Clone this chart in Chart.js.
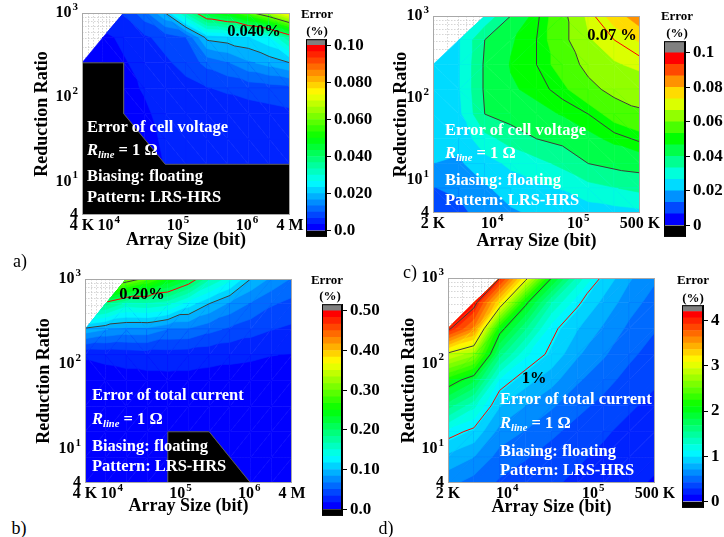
<!DOCTYPE html>
<html lang="en">
<head>
<meta charset="UTF-8">
<title>Error maps vs array size and reduction ratio</title>
<script src="https://cdn.jsdelivr.net/npm/chart.js"></script>
<style>
  html, body { margin: 0; padding: 0; background: #fff; }
  #fig { position: relative; width: 724px; height: 537px; overflow: hidden; }
  #fig canvas { position: absolute; }
  .t { position: absolute; font-family: 'Liberation Serif', 'Times New Roman', serif; white-space: nowrap; line-height: 1; z-index: 5; }
  .ann { color: #fff; font-weight: bold; font-size: 16.5px; transform: translateY(-50%); }
  .ann sub { font-size: 10.5px; vertical-align: -3px; line-height: 0; }
  .cl { color: #000; font-weight: bold; font-size: 16.5px; transform: translate(-50%, -50%); }
  .cb { color: #000; font-weight: bold; font-size: 13px; transform: translate(-50%, -50%); }
  .pl { color: #000; font-size: 18px; transform: translate(-50%, -50%); }
</style>
</head>
<body>
<div id="fig">
  <!-- panel a -->
  <div class="t ann" style="left:87px;top:127px">Error of cell voltage</div>
  <div class="t ann" style="left:87px;top:150px"><i>R</i><sub><i>line</i></sub> = 1 Ω</div>
  <div class="t ann" style="left:87px;top:176px">Biasing: floating</div>
  <div class="t ann" style="left:87px;top:197px">Pattern: LRS-HRS</div>
  <div class="t cl" style="left:254px;top:31px">0.040%</div>
  <div class="t cb" style="left:317px;top:13px">Error</div>
  <div class="t cb" style="left:317px;top:30px">(%)</div>
  <div class="t pl" style="left:20px;top:261px">a)</div>
  <!-- panel c -->
  <div class="t ann" style="left:445px;top:130px">Error of cell voltage</div>
  <div class="t ann" style="left:445px;top:153px"><i>R</i><sub><i>line</i></sub> = 1 Ω</div>
  <div class="t ann" style="left:445px;top:180px">Biasing: floating</div>
  <div class="t ann" style="left:445px;top:200px">Pattern: LRS-HRS</div>
  <div class="t cl" style="left:612px;top:35px">0.07 %</div>
  <div class="t cb" style="left:677px;top:15px">Error</div>
  <div class="t cb" style="left:677px;top:32px">(%)</div>
  <div class="t pl" style="left:410px;top:272px">c)</div>
  <!-- panel b -->
  <div class="t ann" style="left:92px;top:395px">Error of total current</div>
  <div class="t ann" style="left:92px;top:419px"><i>R</i><sub><i>line</i></sub> = 1 Ω</div>
  <div class="t ann" style="left:92px;top:446px">Biasing: floating</div>
  <div class="t ann" style="left:92px;top:466px">Pattern: LRS-HRS</div>
  <div class="t cl" style="left:142px;top:294px">0.20%</div>
  <div class="t cb" style="left:327px;top:279px">Error</div>
  <div class="t cb" style="left:330px;top:295px">(%)</div>
  <div class="t pl" style="left:19px;top:528px">b)</div>
  <!-- panel d -->
  <div class="t ann" style="left:500px;top:399px">Error of total current</div>
  <div class="t ann" style="left:500px;top:423px"><i>R</i><sub><i>line</i></sub> = 1 Ω</div>
  <div class="t ann" style="left:500px;top:451px">Biasing: floating</div>
  <div class="t ann" style="left:500px;top:470px">Pattern: LRS-HRS</div>
  <div class="t cl" style="left:534px;top:378px">1%</div>
  <div class="t cb" style="left:693px;top:279px">Error</div>
  <div class="t cb" style="left:693px;top:297px">(%)</div>
  <div class="t pl" style="left:386px;top:528px">d)</div>
</div>
<script>
const FONT = "'Liberation Serif', 'Times New Roman', serif";

// grid nodes (array size in bit, reduction ratio); rows run from top (1000) to bottom (4)
const sizesAB = [4096, 8192, 16384, 32768, 65536, 131072, 262144, 524288, 1048576, 2097152, 4194304];
const sizesCD = [2048, 4096, 8192, 16384, 32768, 65536, 131072, 262144, 524288];
const ratios = [1000, 512, 256, 128, 64, 32, 16, 8, 4];

// axis ticks ('^' marks a superscript)
const xTicksAB = [4096, 1e4, 1e5, 1e6, 4194304];
const xLabelsAB = ['4 K', '10^4', '10^5', '10^6', '4 M'];
const xTicksCD = [2048, 1e4, 1e5, 524288];
const xLabelsCD = ['2 K', '10^4', '10^5', '500 K'];
const yTicks = [4, 10, 100, 1000];
const yLabels = ['4', '10^1', '10^2', '10^3'];

// error (%) at the grid nodes, null = no data
const errA = [
  [null, null, 0.007, 0.012, 0.020, 0.034, 0.046, 0.050, 0.058, 0.066, 0.076],
  [null, 0.0025, 0.004, 0.006, 0.008, 0.010, 0.021, 0.022, 0.023, 0.026, 0.036],
  [0.0018, 0.002, 0.003, 0.0045, 0.006, 0.008, 0.011, 0.013, 0.016, 0.018, 0.020],
  [null, null, 0.0028, 0.0035, 0.0045, 0.0055, 0.0065, 0.0072, 0.008, 0.0085, 0.009],
  [null, null, 0.0025, 0.003, 0.004, 0.0042, 0.0045, 0.0048, 0.005, 0.0055, 0.006],
  [null, null, null, 0.0028, 0.0036, 0.0038, 0.004, 0.004, 0.0042, 0.0045, 0.005],
  [null, null, null, null, 0.0034, 0.0035, 0.0036, 0.0037, 0.0038, 0.004, 0.004],
  [null, null, null, null, null, null, null, null, null, null, null],
  [null, null, null, null, null, null, null, null, null, null, null]
];
const errB = [
  [null, null, 0.32, 0.29, 0.25, 0.22, 0.17, 0.14, 0.10, 0.08, 0.065],
  [null, 0.19, 0.16, 0.163, 0.155, 0.125, 0.10, 0.08, 0.065, 0.052, 0.045],
  [0.095, 0.084, 0.078, 0.078, 0.066, 0.065, 0.055, 0.047, 0.040, 0.034, 0.030],
  [0.018, 0.020, 0.022, 0.024, 0.025, 0.024, 0.022, 0.020, 0.019, 0.017, 0.016],
  [0.011, 0.011, 0.012, 0.012, 0.012, 0.012, 0.011, 0.011, 0.010, 0.010, 0.010],
  [0.008, 0.008, 0.008, 0.008, 0.008, 0.008, 0.008, 0.007, 0.007, 0.007, 0.007],
  [0.006, 0.006, 0.006, 0.006, 0.006, 0.006, 0.006, 0.006, 0.005, 0.005, 0.005],
  [0.005, 0.005, 0.005, 0.005, 0.005, null, null, 0.005, 0.004, 0.004, 0.004],
  [0.004, 0.004, 0.004, 0.004, 0.004, null, null, null, 0.004, 0.004, 0.004]
];
const errC = [
  [null, null, 0.028, 0.040, 0.049, 0.058, 0.068, 0.076, 0.085],
  [null, 0.026, 0.040, 0.046, 0.050, 0.058, 0.066, 0.070, 0.074],
  [0.025, 0.026, 0.041, 0.047, 0.050, 0.056, 0.062, 0.066, 0.068],
  [0.024, 0.026, 0.041, 0.046, 0.048, 0.052, 0.058, 0.062, 0.063],
  [0.023, 0.025, 0.040, 0.043, 0.045, 0.047, 0.050, 0.056, 0.059],
  [0.022, 0.022, 0.031, 0.036, 0.040, 0.042, 0.045, 0.048, 0.051],
  [0.020, 0.019, 0.024, 0.028, 0.031, 0.035, 0.040, 0.042, 0.043],
  [0.013, 0.015, 0.019, 0.023, 0.025, 0.027, 0.031, 0.033, 0.035],
  [0.009, 0.011, 0.017, 0.019, 0.021, 0.022, 0.023, 0.024, 0.025]
];
const errD = [
  [null, null, 4.0, 3.1, 2.0, 1.35, 0.95, 0.72, 0.58],
  [null, 4.1, 3.2, 2.05, 1.4, 1.03, 0.8, 0.62, 0.5],
  [4.05, 3.6, 2.1, 1.55, 1.05, 0.85, 0.68, 0.53, 0.43],
  [2.95, 2.7, 1.6, 1.15, 0.95, 0.72, 0.58, 0.45, 0.36],
  [2.15, 1.85, 1.1, 0.9, 0.75, 0.58, 0.47, 0.37, 0.3],
  [1.6, 1.3, 0.85, 0.7, 0.58, 0.46, 0.38, 0.3, 0.24],
  [1.08, 0.95, 0.65, 0.55, 0.45, 0.37, 0.3, 0.24, 0.19],
  [0.8, 0.7, 0.5, 0.43, 0.36, 0.3, 0.25, 0.2, 0.16],
  [0.6, 0.5, 0.4, 0.35, 0.3, 0.25, 0.2, 0.16, 0.13]
];

// below-range (black) regions: outline from the plot, filled down to the x axis
const blackA_x = [4096, 16384, 16384, 65536, 4194304];
const blackA_y = [256, 256, 64, 16, 16];
const blackB_x = [65536, 65536, 262144, 1048576];
const blackB_y = [4, 16, 16, 4];

// colour bars
const barTicksA = [0, 0.02, 0.04, 0.06, 0.08, 0.1];
const barLabelsA = ['0.0', '0.020', '0.040', '0.060', '0.080', '0.10'];
const barTicksB = [0, 0.1, 0.2, 0.3, 0.4, 0.5];
const barLabelsB = ['0.0', '0.10', '0.20', '0.30', '0.40', '0.50'];
const barTicksC = [0, 0.02, 0.04, 0.06, 0.08, 0.1];
const barLabelsC = ['0', '0.02', '0.04', '0.06', '0.08', '0.1'];
const barTicksD = [0, 1, 2, 3, 4];
const barLabelsD = ['0', '1', '2', '3', '4'];

// contour levels drawn as lines
const linesA = [0.02, 0.04, 0.06];
const linesB = [0.1, 0.2, 0.3];
const linesC = [0.04, 0.05, 0.06, 0.07];
const linesD = [1, 2, 3, 4];
const RED = '#ff0000', GREY = '#3c3c3c';

function scaleOf(hi, n) { return { lo: 0, step: hi / n, n: n }; }

function bandColor(k, sc) {
  if (k < 0) return '#000000';
  if (k >= sc.n) return '#808080';
  return 'hsl(' + (240 * (1 - k / (sc.n - 1))).toFixed(2) + ',100%,50%)';
}

function clipPoly(poly, t) {
  const out = [];
  for (let i = 0; i < poly.length; i++) {
    const a = poly[i], b = poly[(i + 1) % poly.length];
    const ain = a.v >= t, bin = b.v >= t;
    if (ain) out.push(a);
    if (ain !== bin) {
      const f = (t - a.v) / (b.v - a.v);
      out.push({ x: a.x + f * (b.x - a.x), y: a.y + f * (b.y - a.y), v: t });
    }
  }
  return out;
}

function paint(ctx, poly, color) {
  ctx.beginPath();
  poly.forEach((p, i) => i ? ctx.lineTo(p.x, p.y) : ctx.moveTo(p.x, p.y));
  ctx.closePath();
  ctx.fillStyle = color;
  ctx.strokeStyle = color;
  ctx.fill();
  ctx.stroke();
}

function fillTri(ctx, tri, sc) {
  const vs = tri.map(n => n.v);
  const band = v => Math.max(-1, Math.min(sc.n, Math.floor((v - sc.lo) / sc.step + 1e-9)));
  const k0 = band(Math.min(...vs)), k1 = band(Math.max(...vs));
  paint(ctx, tri, bandColor(k0, sc));
  for (let k = k0 + 1; k <= k1; k++) {
    const poly = clipPoly(tri, sc.lo + k * sc.step);
    if (poly.length >= 3) paint(ctx, poly, bandColor(k, sc));
  }
}

function logGrid(min, max) {
  const out = [];
  for (let e = Math.floor(Math.log10(min)); e <= Math.ceil(Math.log10(max)); e++) {
    for (let m = 1; m < 10; m++) {
      const v = m * Math.pow(10, e);
      if (v > min && v < max) out.push(v);
    }
  }
  return out;
}

// tick label with an optional superscript part after '^'
function drawTick(ctx, text, x, y, align) {
  const parts = text.split('^');
  const big = 'bold 16px ' + FONT, small = 'bold 11px ' + FONT;
  ctx.font = big;
  const wb = ctx.measureText(parts[0]).width;
  let we = 0;
  if (parts[1]) { ctx.font = small; we = ctx.measureText(parts[1]).width + 1; }
  const x0 = align === 'right' ? x - wb - we : x - (wb + we) / 2;
  ctx.fillStyle = '#000';
  ctx.textAlign = 'left';
  ctx.textBaseline = 'middle';
  ctx.font = big;
  ctx.fillText(parts[0], x0, y);
  if (parts[1]) { ctx.font = small; ctx.fillText(parts[1], x0 + wb + 1, y - 6); }
}

function fieldPlugin(p) {
  return {
    id: 'field',
    beforeDatasetsDraw(chart) {
      const { ctx, chartArea: ca, scales } = chart;
      const sx = scales.x, sy = scales.y;
      ctx.save();
      ctx.beginPath();
      ctx.rect(ca.left, ca.top, ca.width, ca.height);
      ctx.clip();

      // faint background grid, only visible where there is no data
      ctx.strokeStyle = '#c4c4c4';
      ctx.lineWidth = 0.7;
      ctx.setLineDash([1.5, 1.5]);
      ctx.beginPath();
      logGrid(sx.min, sx.max).forEach(v => {
        const x = Math.round(sx.getPixelForValue(v)) + 0.5;
        ctx.moveTo(x, ca.top); ctx.lineTo(x, ca.bottom);
      });
      logGrid(sy.min, sy.max).forEach(v => {
        const y = Math.round(sy.getPixelForValue(v)) + 0.5;
        ctx.moveTo(ca.left, y); ctx.lineTo(ca.right, y);
      });
      ctx.stroke();
      ctx.setLineDash([]);

      const X = p.xs.map(v => sx.getPixelForValue(v));
      const Y = p.ys.map(v => sy.getPixelForValue(v));
      const node = (i, j) => ({ x: X[i], y: Y[j], v: p.field[j][i] });
      const tris = [];
      for (let j = 0; j < p.ys.length - 1; j++) {
        for (let i = 0; i < p.xs.length - 1; i++) {
          const tl = node(i, j), tr = node(i + 1, j), bl = node(i, j + 1), br = node(i + 1, j + 1);
          const nulls = [tl, tr, bl, br].filter(n => n.v == null).length;
          let blTr;
          if (nulls === 1) blTr = (tl.v == null || br.v == null);
          else if (nulls === 0) blTr = Math.abs(bl.v - tr.v) <= Math.abs(tl.v - br.v);
          else blTr = true;
          const pair = blTr ? [[bl, br, tr], [bl, tr, tl]] : [[tl, bl, br], [tl, br, tr]];
          pair.forEach(t => { if (t.every(n => n.v != null)) tris.push(t); });
        }
      }
      ctx.lineWidth = 0.6;
      ctx.lineJoin = 'round';
      tris.forEach(t => fillTri(ctx, t, p.sc));

      // contour lines
      ctx.lineWidth = 1;
      p.lines.forEach(l => {
        const lv = l.v + p.sc.step * 1e-4;
        ctx.beginPath();
        tris.forEach(tri => {
          const pts = [];
          for (let i = 0; i < 3; i++) {
            const a = tri[i], b = tri[(i + 1) % 3];
            if ((a.v - lv) * (b.v - lv) < 0) {
              const f = (lv - a.v) / (b.v - a.v);
              pts.push([a.x + f * (b.x - a.x), a.y + f * (b.y - a.y)]);
            }
          }
          if (pts.length === 2) { ctx.moveTo(pts[0][0], pts[0][1]); ctx.lineTo(pts[1][0], pts[1][1]); }
        });
        ctx.strokeStyle = l.color;
        ctx.stroke();
      });
      ctx.restore();
    },
    afterDatasetsDraw(chart) {
      const { ctx, chartArea: ca, scales } = chart;
      ctx.save();
      ctx.strokeStyle = '#a8a8a8';
      ctx.lineWidth = 1;
      ctx.strokeRect(ca.left + 0.5, ca.top + 0.5, ca.width - 1, ca.height - 1);
      p.xTicks.forEach((v, i) => drawTick(ctx, p.xLabels[i], scales.x.getPixelForValue(v), ca.bottom + 11, 'center'));
      yTicks.forEach((v, i) => drawTick(ctx, yLabels[i], ca.left - 4, scales.y.getPixelForValue(v), 'right'));
      ctx.restore();
    }
  };
}

function addCanvas(left, top, w, h) {
  const cv = document.createElement('canvas');
  cv.width = w; cv.height = h;
  cv.style.left = left + 'px'; cv.style.top = top + 'px';
  cv.style.width = w + 'px'; cv.style.height = h + 'px';
  document.getElementById('fig').appendChild(cv);
  return cv;
}

const titleFont = { family: FONT, size: 18, weight: 'bold' };

function makePlot(p) {
  const cv = addCanvas(p.left, p.top, p.w, p.h);
  const datasets = [];
  if (p.maskX) {
    datasets.push({
      data: p.maskX.map((x, i) => ({ x: x, y: p.maskY[i] })),
      showLine: true, fill: 'start', tension: 0,
      backgroundColor: '#000000', borderColor: '#5a5a5a', borderWidth: 1, pointRadius: 0
    });
  }
  new Chart(cv, {
    type: 'scatter',
    data: { datasets: datasets },
    options: {
      responsive: false, animation: false, events: [],
      layout: { padding: { left: p.pl, top: p.pt, right: 20, bottom: 0 } },
      plugins: { legend: { display: false }, tooltip: { enabled: false } },
      scales: {
        x: {
          type: 'logarithmic', min: p.xs[0], max: p.xs[p.xs.length - 1],
          afterBuildTicks: s => { s.ticks = p.xTicks.map(v => ({ value: v })); },
          afterFit: s => { s.height = p.hx; },
          ticks: { display: false },
          grid: { display: false, drawTicks: false },
          border: { display: false },
          title: { display: true, text: 'Array Size (bit)', color: '#000', font: titleFont, padding: 0 }
        },
        y: {
          type: 'logarithmic', min: 4, max: 1000,
          afterBuildTicks: s => { s.ticks = yTicks.map(v => ({ value: v })); },
          afterFit: s => { s.width = p.wy; },
          ticks: { display: false },
          grid: { display: false, drawTicks: false },
          border: { display: false },
          title: { display: true, text: 'Reduction Ratio', color: '#000', font: titleFont, padding: 0 }
        }
      }
    },
    plugins: [fieldPlugin(p)]
  });
}

function makeBar(b) {
  const cv = addCanvas(b.left, b.top, b.w, b.h);
  const sc = b.sc;
  const bands = [];
  for (let k = -1; k <= sc.n; k++) {
    bands.push({
      data: [[sc.lo + k * sc.step, sc.lo + (k + 1) * sc.step]],
      backgroundColor: bandColor(k, sc), borderWidth: 0,
      barPercentage: 1, categoryPercentage: 1, grouped: false
    });
  }
  new Chart(cv, {
    type: 'bar',
    data: { labels: [''], datasets: bands },
    options: {
      responsive: false, animation: false, events: [],
      layout: { padding: { left: 10, top: 12, right: 0, bottom: 12 } },
      plugins: { legend: { display: false }, tooltip: { enabled: false } },
      scales: {
        x: { display: false },
        y: {
          position: 'right', min: sc.lo - sc.step, max: sc.lo + (sc.n + 1) * sc.step,
          afterBuildTicks: s => { s.ticks = b.ticks.map(v => ({ value: v })); },
          afterFit: s => { s.width = 60; },
          ticks: { padding: 3, color: '#000', font: { family: FONT, size: 17, weight: 'bold' },
                   callback: (v, i) => b.labels[i] },
          grid: { drawOnChartArea: false, drawTicks: true, tickLength: 5, color: '#000', lineWidth: 1 },
          border: { display: true, color: '#000', width: 1 }
        }
      }
    },
    plugins: [{
      id: 'barFrame',
      afterDatasetsDraw(chart) {
        const { ctx, chartArea: a } = chart;
        ctx.save();
        ctx.strokeStyle = '#000';
        ctx.lineWidth = 1;
        ctx.strokeRect(a.left + 0.5, a.top + 0.5, a.width - 1, a.height - 1);
        ctx.restore();
      }
    }]
  });
}

const scA = scaleOf(0.1, 30), scB = scaleOf(0.5, 30), scC = scaleOf(0.1, 15), scD = scaleOf(4.2, 30);
const lineStyle = (levels, redLevel) => levels.map(v => ({ v: v, color: v === redLevel ? RED : GREY }));

makePlot({ left: 0, top: 0, w: 310, h: 251, pl: 32, pt: 13, wy: 50, hx: 36,
  xs: sizesAB, ys: ratios, field: errA, sc: scA, lines: lineStyle(linesA, 0.04),
  xTicks: xTicksAB, xLabels: xLabelsAB, maskX: blackA_x, maskY: blackA_y });
makePlot({ left: 362, top: 0, w: 298, h: 252, pl: 29, pt: 16, wy: 42, hx: 39,
  xs: sizesCD, ys: ratios, field: errC, sc: scC, lines: lineStyle(linesC, 0.07),
  xTicks: xTicksCD, xLabels: xLabelsCD });
makePlot({ left: 0, top: 268, w: 312, h: 249, pl: 34, pt: 11, wy: 51, hx: 34,
  xs: sizesAB, ys: ratios, field: errB, sc: scB, lines: lineStyle(linesB, 0.2),
  xTicks: xTicksAB, xLabels: xLabelsAB, maskX: blackB_x, maskY: blackB_y });
makePlot({ left: 362, top: 268, w: 313, h: 250, pl: 37, pt: 10, wy: 49, hx: 35,
  xs: sizesCD, ys: ratios, field: errD, sc: scD, lines: lineStyle(linesD, 1),
  xTicks: xTicksCD, xLabels: xLabelsCD });

makeBar({ left: 296, top: 26, w: 90, h: 224, sc: scA, ticks: barTicksA, labels: barLabelsA });
makeBar({ left: 312, top: 291, w: 90, h: 238, sc: scB, ticks: barTicksB, labels: barLabelsB });
makeBar({ left: 654, top: 28, w: 91, h: 222, sc: scC, ticks: barTicksC, labels: barLabelsC });
makeBar({ left: 672, top: 292, w: 91, h: 229, sc: scD, ticks: barTicksD, labels: barLabelsD });
</script>
</body>
</html>
